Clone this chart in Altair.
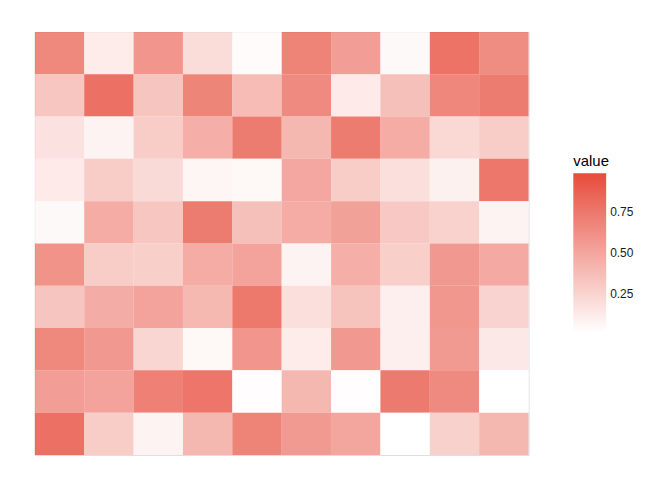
import altair as alt
import pandas as pd

cols = [str(i) for i in range(1, 11)]
rows = [str(i) for i in range(1, 11)]  # row 1 = top

values = [
    [0.82, 0.14, 0.73, 0.25, 0.04, 0.86, 0.68, 0.05, 0.97, 0.79],
    [0.40, 0.99, 0.41, 0.85, 0.47, 0.81, 0.15, 0.44, 0.83, 0.91],
    [0.21, 0.09, 0.36, 0.56, 0.91, 0.50, 0.91, 0.58, 0.27, 0.36],
    [0.15, 0.36, 0.26, 0.07, 0.06, 0.61, 0.36, 0.23, 0.11, 0.94],
    [0.05, 0.58, 0.40, 0.91, 0.44, 0.58, 0.65, 0.38, 0.32, 0.09],
    [0.75, 0.36, 0.34, 0.58, 0.64, 0.09, 0.56, 0.34, 0.71, 0.59],
    [0.41, 0.57, 0.64, 0.49, 0.93, 0.23, 0.42, 0.12, 0.72, 0.31],
    [0.82, 0.71, 0.29, 0.06, 0.73, 0.14, 0.71, 0.12, 0.70, 0.16],
    [0.67, 0.64, 0.88, 0.95, 0.02, 0.50, 0.02, 0.92, 0.81, 0.01],
    [0.99, 0.36, 0.09, 0.50, 0.86, 0.70, 0.62, 0.01, 0.33, 0.50],
]

records = []
for ri, r in enumerate(rows):
    for ci, c in enumerate(cols):
        records.append({"col": c, "row": r, "value": values[ri][ci]})
df = pd.DataFrame(records)

vmin = min(min(r) for r in values)
vmax = max(max(r) for r in values)

chart = alt.Chart(df).mark_rect(fillOpacity=0.8, strokeWidth=0).encode(
    x=alt.X("col:O", sort=cols, axis=None,
            scale=alt.Scale(paddingInner=0, paddingOuter=0)),
    y=alt.Y("row:O", sort=rows, axis=None,
            scale=alt.Scale(paddingInner=0, paddingOuter=0)),
    color=alt.Color(
        "value:Q",
        scale=alt.Scale(domain=[vmin, vmax], range=["#FFFFFF", "#E74C3C"], interpolate="rgb"),
        legend=alt.Legend(
            title="value",
            values=[0.25, 0.5, 0.75],
            format=".2f",
            orient="none",
            legendX=541,
            legendY=123,
            gradientLength=160,
            gradientThickness=33,
            titleFontSize=15,
            titleFontWeight="normal",
            titleColor="#000000",
            titlePadding=4,
            labelFontSize=12,
            labelColor="#1a1a1a",
            labelOffset=4,
            gradientStrokeWidth=0,
        ),
    ),
).properties(
    width=496,
    height=425,
    padding={"left": 27, "top": 23, "right": 5, "bottom": 5},
).configure_view(
    strokeWidth=0
).configure(
    font="Liberation Sans"
)

chart.save("out.html", embed_options={"renderer": "svg", "actions": False})
